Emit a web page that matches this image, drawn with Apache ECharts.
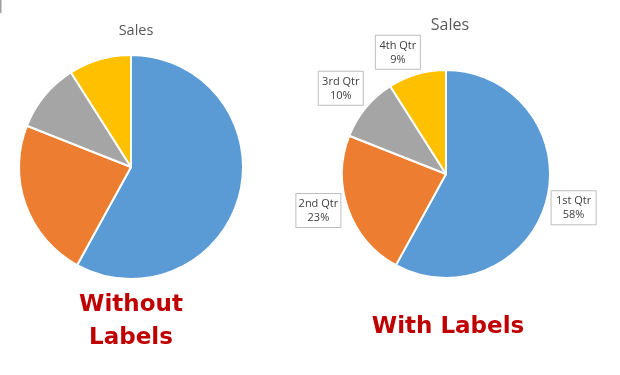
<!DOCTYPE html>
<html>
<head>
<meta charset="utf-8">
<script src="https://cdn.jsdelivr.net/npm/echarts@6/dist/echarts.min.js"></script>
<style>html,body{margin:0;padding:0;background:#fff;}#c{width:620px;height:375px;}</style>
</head>
<body>
<div id="c"></div>
<script>
var categories = ['1st Qtr', '2nd Qtr', '3rd Qtr', '4th Qtr'];
var salesValues = [58, 23, 10, 9];
var chartTitle = 'Sales';
var captionLeft = 'Without\nLabels';
var captionRight = 'With Labels';

var colors = ['#5B9BD5', '#ED7D31', '#A5A5A5', '#FFC000'];
var labelOffsets = [[1, 7], [-4, 0], [0, -17], [4, -18]];

var chart = echarts.init(document.getElementById('c'), null, {renderer: 'canvas'});

function pieData(withOffsets) {
  return categories.map(function (c, i) {
    var d = {name: c, value: salesValues[i]};
    if (withOffsets) d.label = {offset: labelOffsets[i]};
    return d;
  });
}

var option = {
  animation: false,
  color: colors,
  title: [
    {text: chartTitle, left: 131, top: 18, textAlign: 'center',
     textStyle: {fontFamily: 'Open Sans', fontWeight: 'normal', fontSize: 14.5, color: '#595959'}},
    {text: chartTitle, left: 445, top: 12, textAlign: 'center',
     textStyle: {fontFamily: 'Open Sans', fontWeight: 'normal', fontSize: 16, color: '#595959'}}
  ],
  series: [
    {
      type: 'pie', center: [131, 167], radius: 112, startAngle: 90, clockwise: true,
      avoidLabelOverlap: false,
      itemStyle: {borderColor: '#fff', borderWidth: 2},
      label: {show: false}, labelLine: {show: false},
      emphasis: {disabled: true},
      data: pieData(false)
    },
    {
      type: 'pie', center: [446, 174], radius: 104, startAngle: 90, clockwise: true,
      avoidLabelOverlap: false,
      itemStyle: {borderColor: '#fff', borderWidth: 2},
      label: {
        show: true, position: 'outside', formatter: '{t|{b}}\n{t|{d}%}',
        backgroundColor: '#fff', borderColor: '#bfbfbf', borderWidth: 1,
        padding: [3, 4, 2, 4], distanceToLabelLine: 0,
        rich: {
          t: {fontFamily: 'Open Sans', fontSize: 11, color: '#404040', lineHeight: 14,
              width: 36, align: 'center'}
        }
      },
      labelLine: {show: false, length: 4, length2: 0},
      emphasis: {disabled: true},
      data: pieData(true)
    }
  ],
  graphic: [
    {type: 'rect', shape: {x: 0, y: 0, width: 1.5, height: 13}, style: {fill: '#a0a0a0'}},
    {type: 'text', x: 131, y: 322, style: {text: captionLeft, textAlign: 'center', textVerticalAlign: 'middle',
      font: 'bold 23px "DejaVu Sans"', fill: '#C00000', lineHeight: 33}},
    {type: 'text', x: 448, y: 327, style: {text: captionRight, textAlign: 'center', textVerticalAlign: 'middle',
      font: 'bold 23px "DejaVu Sans"', fill: '#C00000'}}
  ]
};
chart.setOption(option);
</script>
</body>
</html>
